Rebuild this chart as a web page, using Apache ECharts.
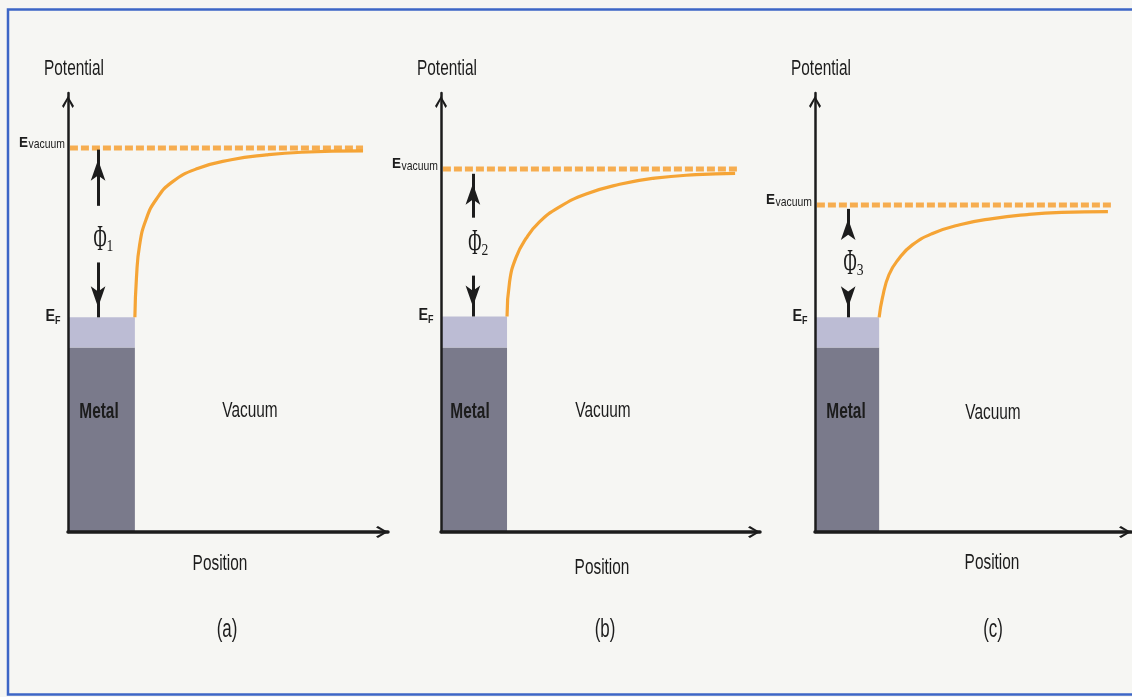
<!DOCTYPE html>
<html>
<head>
<meta charset="utf-8">
<script src="https://cdn.jsdelivr.net/npm/echarts@6/dist/echarts.min.js"></script>
<style>
  html, body { margin: 0; padding: 0; background: #f6f6f3; }
  #chart { width: 1132px; height: 697px; }
</style>
</head>
<body>
<div id="chart"></div>
<script>
// Work function of three metals: potential energy vs. position at a metal/vacuum interface.
const panelTags = ['(a)', '(b)', '(c)'];
const phiIndex = ['1', '2', '3'];

// Energy levels (arbitrary units, axis runs 0..10)
const fermiLevel = [4.89, 4.91, 4.89];
const bandBottom = [4.2, 4.2, 4.2];
const vacuumLevel = [8.75, 8.27, 7.45];

// Position of the metal surface and extent of the vacuum-level line (axis runs 0..10)
const metalEdge = [2.09, 2.07, 2.03];
const vacuumLineEnd = [9.22, 9.28, 9.42];

// Potential barrier outside each metal surface
const barrierA = [[2.09, 4.89], [2.14, 5.80], [2.24, 6.55], [2.44, 7.12], [2.76, 7.58], [3.25, 7.97],
                  [4.05, 8.28], [5.10, 8.48], [6.20, 8.59], [7.30, 8.65], [9.22, 8.68]];
const barrierB = [[2.07, 4.91], [2.15, 5.70], [2.35, 6.25], [2.66, 6.68], [3.08, 7.06], [3.70, 7.40],
                  [4.55, 7.70], [5.60, 7.92], [6.70, 8.06], [8.00, 8.14], [9.22, 8.17]];
const barrierC = [[2.03, 4.89], [2.13, 5.32], [2.34, 5.86], [2.66, 6.23], [3.08, 6.54], [3.72, 6.80],
                  [4.58, 7.00], [5.62, 7.14], [6.72, 7.23], [7.80, 7.28], [9.27, 7.30]];
const barriers = [barrierA, barrierB, barrierC];

// Work-function arrows: x position, up-arrow tail/tip, down-arrow tail (tip sits on E_F)
const phiArrowX = [0.94, 1.0, 1.05];
const phiUpTail = [7.43, 7.16, 6.86];
const phiUpTip = [8.71, 8.16, 7.36];
const phiDownTail = [6.14, 5.84, 5.39];

// ---- layout ----
const axisLeft = [68, 441, 815];
const axisRight = [388, 760, 1131];
const axisTop = 93, axisBottom = 532;
const CHEVRON = 'path://M50,0 L100,84 L87,100 L50,30 L13,100 L0,84 Z';
const ink = '#1c1c1c';
const orange = '#f5a435';

const chart = echarts.init(document.getElementById('chart'), null, { renderer: 'canvas' });

// arrow-head end of a work-function arrow
const arrowHead = { symbol: 'arrow', symbolSize: [11, 21], symbolOffset: [0, 10] };

const grids = [], xAxes = [], yAxes = [], series = [];
for (let i = 0; i < 3; i++) {
  grids.push({ left: axisLeft[i], top: axisTop, width: axisRight[i] - axisLeft[i], height: axisBottom - axisTop, containLabel: false });
  xAxes.push({
    type: 'value', gridIndex: i, min: 0, max: 10, z: 6,
    axisLine: { show: true, onZero: false, lineStyle: { color: ink, width: 3.5 },
      symbol: ['none', CHEVRON], symbolSize: [21, 12], symbolOffset: [0, -6] },
    axisTick: { show: false }, axisLabel: { show: false }, splitLine: { show: false }
  });
  yAxes.push({
    type: 'value', gridIndex: i, min: 0, max: 10, z: 6,
    axisLine: { show: true, onZero: false, lineStyle: { color: ink, width: 2.5 },
      symbol: ['none', CHEVRON], symbolSize: [12, 18], symbolOffset: [0, -9] },
    axisTick: { show: false }, axisLabel: { show: false }, splitLine: { show: false }
  });

  // metal block + barrier curve
  series.push({
    type: 'line', xAxisIndex: i, yAxisIndex: i, data: barriers[i],
    smooth: 0.5, symbol: 'none', silent: true, z: 4,
    lineStyle: { color: orange, width: 3.2 },
    markArea: {
      silent: true, label: { show: false },
      data: [
        [{ coord: [0, 0], itemStyle: { color: '#7a7a8b' } }, { coord: [metalEdge[i], bandBottom[i]] }],
        [{ coord: [0, bandBottom[i]], itemStyle: { color: '#bcbcd4' } }, { coord: [metalEdge[i], fermiLevel[i]] }]
      ]
    }
  });

  // vacuum level (dashed) + work-function arrows
  series.push({
    type: 'line', xAxisIndex: i, yAxisIndex: i,
    data: [[0.06, vacuumLevel[i]], [vacuumLineEnd[i], vacuumLevel[i]]],
    symbol: 'none', silent: true, z: 3,
    lineStyle: { color: '#f6ad50', width: 5, type: [8, 3] },
    markLine: {
      silent: true, animation: false,
      symbol: ['none', 'arrow'], symbolSize: 10,
      label: { show: false },
      lineStyle: { color: ink, width: 3, type: 'solid' },
      data: [
        [{ coord: [phiArrowX[i], phiUpTail[i]], symbol: 'none' },
         Object.assign({ coord: [phiArrowX[i], phiUpTip[i]] }, arrowHead)],
        [{ coord: [phiArrowX[i], phiDownTail[i]], symbol: 'none' },
         Object.assign({ coord: [phiArrowX[i], fermiLevel[i]] }, arrowHead)]
      ]
    }
  });
}

chart.setOption({
  animation: false,
  backgroundColor: '#f6f6f3',
  grid: grids, xAxis: xAxes, yAxis: yAxes, series: series
});

// ---- text ----
function txt(x, y, text, o) {
  const align = o.align || 'center';
  return {
    type: 'text', x: x, y: y, scaleX: o.sx || 1, silent: true, z: 20,
    style: {
      text: text, fill: o.color || ink, fontSize: o.size,
      fontFamily: o.family || '"Liberation Sans", Arial, sans-serif',
      fontWeight: o.weight || 'normal',
      align: align, verticalAlign: 'middle', textAlign: align, textVerticalAlign: 'middle'
    }
  };
}

const metalLabelX = [99, 470, 846];
const vacuumLabelPos = [[250, 411], [603, 411], [993, 413]];
const positionLabelPos = [[220, 564], [602, 568], [992, 563]];
const tagPos = [[227, 630], [605, 630], [993, 630]];
const phiLabelY = [241, 245, 265];

const graphics = [{
  type: 'rect', silent: true, z: 30,
  shape: { x: 8, y: 9.5, width: 1140, height: 685 },
  style: { fill: 'none', stroke: '#3d66c6', lineWidth: 2.5 }
}];

for (let i = 0; i < 3; i++) {
  const ax = axisLeft[i];
  const vacY = chart.convertToPixel({ gridIndex: i }, [0, vacuumLevel[i]])[1];
  const fermiY = chart.convertToPixel({ gridIndex: i }, [0, fermiLevel[i]])[1];
  const arrowX = chart.convertToPixel({ gridIndex: i }, [phiArrowX[i], 0])[0];

  graphics.push(txt(ax + 6, 69, 'Potential', { size: 22, sx: 0.7 }));
  graphics.push(txt(ax - 40, vacY - 5, 'E', { size: 15, sx: 0.9, weight: 'bold', align: 'right' }));
  graphics.push(txt(ax - 3, vacY - 3, 'vacuum', { size: 13, sx: 0.8, align: 'right' }));
  graphics.push(txt(ax - 13, fermiY - 1, 'E', { size: 16, sx: 0.9, weight: 'bold', align: 'right' }));
  graphics.push(txt(ax - 13, fermiY + 4, 'F', { size: 10, sx: 0.9, weight: 'bold', align: 'left' }));

  const serif = '"Liberation Serif", "Times New Roman", serif';
  graphics.push(txt(arrowX + 2, phiLabelY[i], '\u03A6', { size: 36, sx: 0.5, family: serif }));
  graphics.push(txt(arrowX + 8.5, phiLabelY[i] + 6, phiIndex[i], { size: 17, sx: 0.8, align: 'left', family: serif }));

  graphics.push(txt(metalLabelX[i], 412, 'Metal', { size: 22, sx: 0.7, weight: 'bold' }));
  graphics.push(txt(vacuumLabelPos[i][0], vacuumLabelPos[i][1], 'Vacuum', { size: 22, sx: 0.7 }));
  graphics.push(txt(positionLabelPos[i][0], positionLabelPos[i][1], 'Position', { size: 22, sx: 0.7 }));
  graphics.push(txt(tagPos[i][0], tagPos[i][1], panelTags[i], { size: 26, sx: 0.65 }));
}

chart.setOption({ graphic: graphics });
</script>
</body>
</html>
